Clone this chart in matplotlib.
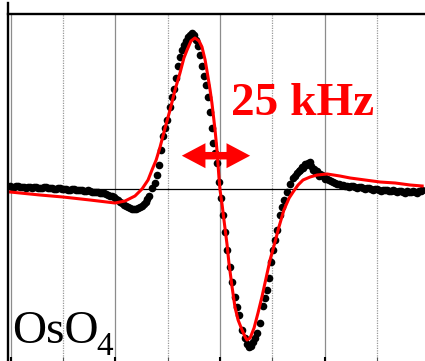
import matplotlib
matplotlib.use("Agg")
import matplotlib.pyplot as plt
from matplotlib.lines import Line2D
from matplotlib.ticker import MultipleLocator

# measured spectrum (frequency offset in kHz, signal in arb. units)
data_khz = [-80.2, -78.7, -77.2, -75.6, -74.1, -72.6, -71.1, -69.5, -68.0, -66.5,
            -64.9, -63.4, -61.9, -60.4, -58.8, -57.3, -55.8, -54.2, -52.7, -51.2,
            -49.7, -48.1, -46.6, -45.1, -43.5, -42.0, -40.5, -39.0, -37.4, -35.9,
            -34.4, -32.9, -31.3, -29.8, -28.3, -27.1, -26.0, -24.8, -24.1, -23.3,
            -22.5, -21.8, -21.0, -20.2, -19.1, -18.3, -17.6, -16.8, -16.0, -15.3,
            -14.5, -13.8, -13.0, -12.2, -11.5, -10.7, -9.9, -9.2, -8.4, -7.6,
            -6.9, -6.1, -5.3, -4.6, -3.8, -3.1, -2.7, -1.9, -1.1, -0.4,
            0.4, 1.1, 1.9, 2.7, 3.8, 4.6, 5.7, 6.5, 7.3, 8.4,
            9.6, 10.3, 11.1, 11.8, 12.6, 13.4, 14.1, 15.3, 16.4, 17.2,
            18.0, 18.7, 19.5, 20.2, 21.0, 21.8, 22.9, 23.7, 24.4, 25.6,
            26.7, 27.9, 29.4, 30.6, 31.7, 32.9, 33.6, 34.8, 35.9, 37.1,
            38.2, 39.7, 40.9, 42.4, 43.9, 45.5, 47.0, 48.5, 50.0, 51.6,
            53.1, 54.6, 56.2, 57.7, 59.2, 60.7, 62.3, 63.8, 65.3, 66.9,
            68.4, 69.9, 71.4, 73.0, 74.5, 76.0, 77.2,
            -79.5, -77.9, -76.4, -74.9, -73.3, -71.8, -70.3, -68.8, -67.2, -65.7,
            -64.2, -62.6, -61.1, -59.6, -58.1, -56.5, -55.0, -53.5, -52.0, -50.4,
            -48.9, -47.4, -45.8, -44.3, -42.8, -41.3, -39.7, -38.2, -36.7, -35.1,
            -33.6, -32.1, -30.6, -29.0, -27.9,
            28.7, 30.2, 31.3, 32.5, 34.4, 35.5, 36.7, 37.8, 39.0, 40.1,
            41.6, 43.2, 44.7, 46.2, 47.8, 49.3, 50.8, 52.3, 53.9, 55.4,
            56.9, 58.4, 60.0, 61.5, 63.0, 64.6, 66.1, 67.6, 69.1, 70.7,
            72.2, 73.7, 75.3, 76.8]
data_sig = [0.03, 0.02, 0.03, 0.02, 0.01, 0.02, 0.02, 0.01, 0.01, 0.02,
            0.01, 0.00, 0.01, 0.00, 0.00, -0.01, 0.00, -0.01, -0.01, -0.02,
            -0.02, -0.03, -0.03, -0.04, -0.05, -0.07, -0.08, -0.11, -0.14, -0.17,
            -0.19, -0.20, -0.19, -0.17, -0.13, -0.07, 0.01, 0.06, 0.14, 0.24,
            0.39, 0.53, 0.61, 0.69, 0.82, 0.92, 1.00, 1.11, 1.23, 1.32,
            1.39, 1.44, 1.48, 1.52, 1.54, 1.56, 1.54, 1.49, 1.43, 1.34,
            1.23, 1.13, 1.04, 0.92, 0.77, 0.61, 0.46, 0.36, 0.26, 0.07,
            -0.09, -0.26, -0.43, -0.61, -0.78, -0.93, -1.08, -1.18, -1.26, -1.41,
            -1.49, -1.55, -1.58, -1.57, -1.53, -1.49, -1.44, -1.34, -1.17, -1.09,
            -1.01, -0.89, -0.73, -0.61, -0.51, -0.41, -0.26, -0.18, -0.11, -0.03,
            0.05, 0.11, 0.16, 0.19, 0.21, 0.24, 0.26, 0.23, 0.20, 0.18,
            0.15, 0.12, 0.10, 0.08, 0.06, 0.05, 0.04, 0.03, 0.03, 0.02,
            0.02, 0.01, 0.01, 0.00, 0.00, -0.01, -0.01, -0.01, -0.02, -0.02,
            -0.02, -0.03, -0.02, -0.03, -0.03, -0.02, -0.01,
            0.02, 0.03, 0.02, 0.02, 0.02, 0.01, 0.02, 0.01, 0.02, 0.01,
            0.01, 0.00, 0.01, 0.00, -0.01, 0.00, -0.01, -0.01, -0.02, -0.01,
            -0.03, -0.03, -0.04, -0.04, -0.06, -0.07, -0.10, -0.13, -0.16, -0.18,
            -0.20, -0.20, -0.18, -0.15, -0.10,
            0.13, 0.18, 0.22, 0.25, 0.27, 0.19, 0.16, 0.13, 0.14, 0.10,
            0.09, 0.07, 0.05, 0.04, 0.03, 0.02, 0.03, 0.01, 0.02, 0.00,
            0.01, -0.01, 0.00, -0.02, -0.01, -0.02, -0.01, -0.03, -0.02, -0.04,
            -0.03, -0.02, -0.04, -0.02]

# fitted curve
fit_khz = [-80.2, -68.8, -60.0, -49.7, -40.1, -36.3, -32.5, -29.8, -27.5, -26.0,
           -24.4, -22.9, -21.0, -19.1, -17.2, -15.3, -13.8, -12.6, -11.1, -9.6,
           -8.0, -6.9, -5.7, -4.6, -3.8, -3.1, -1.9, -1.1, -0.4, 0.0,
           0.8, 1.5, 2.7, 3.4, 4.6, 5.7, 6.9, 8.4, 9.6, 10.3,
           11.5, 13.0, 14.5, 16.0, 17.6, 19.1, 21.0, 22.5, 24.4, 26.4,
           27.9, 29.8, 31.7, 34.4, 37.1, 40.9, 45.8, 49.7, 55.4, 61.1,
           66.9, 72.6, 77.2]
fit_sig = [-0.03, -0.06, -0.08, -0.11, -0.14, -0.12, -0.07, 0.00, 0.09, 0.19,
           0.29, 0.42, 0.61, 0.79, 0.99, 1.16, 1.31, 1.39, 1.48, 1.51,
           1.48, 1.42, 1.29, 1.12, 0.99, 0.86, 0.59, 0.37, 0.11, -0.01,
           -0.16, -0.31, -0.56, -0.74, -0.98, -1.18, -1.31, -1.41, -1.48, -1.51,
           -1.49, -1.39, -1.24, -1.08, -0.89, -0.71, -0.53, -0.38, -0.21, -0.09,
           -0.03, 0.04, 0.09, 0.12, 0.14, 0.15, 0.13, 0.11, 0.09, 0.07,
           0.06, 0.04, 0.03]

width_span = [-14.6, 11.5]
width_label = "25 kHz"
sample_label = "OsO"
sample_sub = "4"

serif = ['Liberation Serif', 'DejaVu Serif']

fig = plt.figure(figsize=(4.25, 3.61), dpi=100)
ax = fig.add_axes([8/425, 0, 417/425, 347/361])

ax.set_xlim(-81.0, 78.3)
ax.set_ylim(-1.72, 1.75)

ax.xaxis.set_major_locator(MultipleLocator(40))
ax.xaxis.set_minor_locator(MultipleLocator(20))
ax.set_yticks([])
ax.tick_params(axis='x', which='both', direction='in', labelbottom=False)
ax.tick_params(axis='x', which='major', length=3, width=1.5, color='black')
ax.tick_params(axis='x', which='minor', length=3, width=0.8, color='#555555')
ax.grid(which='major', axis='x', color='#8c8c8c', lw=0.9)
ax.grid(which='minor', axis='x', color='#999999', lw=0.9, ls=(0, (1, 1)))
ax.set_axisbelow(True)

for s in ['left', 'right', 'bottom']:
    ax.spines[s].set_visible(False)
ax.spines['top'].set_linewidth(1.7)

ax.axhline(0, color='black', lw=0.9, zorder=1)

ax.plot(data_khz, data_sig, 'o', color='black', ms=5.5, mew=0, zorder=2)
ax.plot(fit_khz, fit_sig, '-', color='#ff0000', lw=2.2, zorder=3)

# double arrow marking the line width
mid = (width_span[0] + width_span[1]) / 2
for end in width_span:
    ax.annotate('', xy=(end, 0.333), xytext=(mid, 0.333),
                arrowprops=dict(arrowstyle='simple,head_length=0.85,head_width=0.9,tail_width=0.27',
                                color='#ff0000', lw=0, shrinkA=0, shrinkB=0,
                                mutation_scale=20), zorder=4)

ax.text(4.2, 0.74, width_label, color='#ff0000', fontsize=34, fontweight='bold',
        family=serif, ha='left', va='baseline', zorder=5)
ax.text(-79.5, -1.54, sample_label, color='black', fontsize=34,
        family=serif, ha='left', va='baseline', zorder=5)
ax.text(-47.2, -1.66, sample_sub, color='black', fontsize=24,
        family=serif, ha='left', va='baseline', zorder=5)

fig.add_artist(Line2D([8/425, 8/425], [0, 1 - 3/361], color='black', lw=1.7))

fig.savefig('out.png', dpi=100)
